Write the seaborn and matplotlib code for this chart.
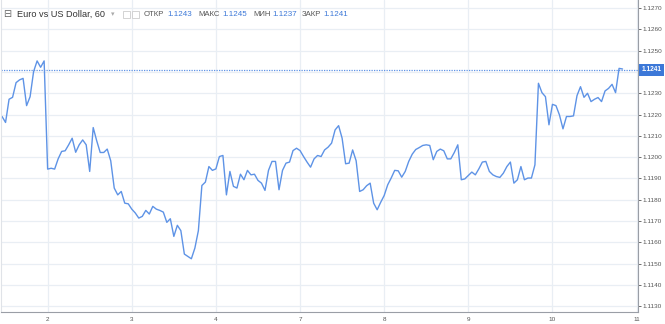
import numpy as np
import pandas as pd
import matplotlib
matplotlib.use("Agg")
import matplotlib.pyplot as plt
import matplotlib.transforms as mtransforms
from matplotlib.patches import Rectangle
import seaborn as sns

# ---- data (hourly closes) ----
prices = [
    1.12191, 1.12163, 1.12272, 1.12281, 1.12350, 1.12363, 1.12370, 1.12242, 1.12284, 1.12402,
    1.12452, 1.12422, 1.12452, 1.11944, 1.11948, 1.11944, 1.11992, 1.12027, 1.12030, 1.12058,
    1.12089, 1.12023, 1.12058, 1.12081, 1.12058, 1.11933, 1.12139, 1.12077, 1.12022, 1.12022,
    1.12038, 1.11983, 1.11855, 1.11823, 1.11839, 1.11784, 1.11781, 1.11756, 1.11738, 1.11714,
    1.11722, 1.11750, 1.11733, 1.11769, 1.11756, 1.11750, 1.11742, 1.11694, 1.11711, 1.11628,
    1.11680, 1.11655, 1.11545, 1.11534, 1.11523, 1.11573, 1.11655, 1.11867, 1.11883, 1.11956,
    1.11938, 1.11945, 1.12003, 1.12008, 1.11823, 1.11933, 1.11863, 1.11855, 1.11920, 1.11894,
    1.11938, 1.11917, 1.11920, 1.11891, 1.11878, 1.11844, 1.11938, 1.11980, 1.11980, 1.11847,
    1.11938, 1.11972, 1.11977, 1.12031, 1.12042, 1.12031, 1.12003, 1.11977, 1.11953, 1.11992,
    1.12008, 1.12003, 1.12034, 1.12047, 1.12066, 1.12128, 1.12148, 1.12089, 1.11969, 1.11972,
    1.12034, 1.11983, 1.11839, 1.11847, 1.11866, 1.11878, 1.11784, 1.11753, 1.11788, 1.11820,
    1.11870, 1.11902, 1.11938, 1.11936, 1.11906, 1.11933, 1.11980, 1.12014, 1.12036, 1.12045,
    1.12055, 1.12058, 1.12055, 1.11988, 1.12027, 1.12038, 1.12030, 1.11992, 1.11992, 1.12022,
    1.12058, 1.11894, 1.11898, 1.11914, 1.11930, 1.11917, 1.11945, 1.11977, 1.11980, 1.11933,
    1.11917, 1.11909, 1.11905, 1.11925, 1.11956, 1.11977, 1.11878, 1.11894, 1.11956, 1.11894,
    1.11902, 1.11902, 1.11964, 1.12347, 1.12303, 1.12284, 1.12152, 1.12248, 1.12242, 1.12198,
    1.12133, 1.12191, 1.12191, 1.12194, 1.12289, 1.12331, 1.12281, 1.12300, 1.12261, 1.12272,
    1.12280, 1.12261, 1.12311, 1.12323, 1.12342, 1.12303, 1.12417, 1.12414,
]
hours = list(range(len(prices)))

day_labels = ["2", "3", "4", "7", "8", "9", "10", "11"]
day_positions = [13, 37, 61, 85, 109, 133, 157, 181]

y_ticks = [1.1130, 1.1140, 1.1150, 1.1160, 1.1170, 1.1180, 1.1190, 1.1200,
           1.1210, 1.1220, 1.1230, 1.1250, 1.1260, 1.1270]
last_price = 1.1241

title_name = "Euro vs US Dollar, 60"
ohlc_labels = ["ОТКР", "МАКС", "МИН", "ЗАКР"]
ohlc_values = ["1.1243", "1.1245", "1.1237", "1.1241"]

df = pd.DataFrame({"hour": hours, "price": prices})

# ---- figure ----
W, H = 665, 324
sns.set_theme(style="white")
plt.rcParams["font.family"] = ["Liberation Sans", "DejaVu Sans"]
fig = plt.figure(figsize=(W / 100, H / 100), dpi=100)
fig.patch.set_facecolor("white")
ax = fig.add_axes([1 / W, (H - 312) / H, 637 / W, 312 / H])
ax.set_facecolor("white")

line_color = "#5e93e6"
grid_color = "#e9eef4"

sns.lineplot(data=df, x="hour", y="price", ax=ax, color=line_color, linewidth=1.0)

ax.set_xlim(-0.3, 181.4)
ax.set_ylim(1.11273, 1.12738)

# grid
for yv in [1.1130, 1.1140, 1.1150, 1.1160, 1.1170, 1.1180, 1.1190, 1.1200,
           1.1210, 1.1220, 1.1230, 1.1240, 1.1250, 1.1260, 1.1270]:
    ax.axhline(yv, color=grid_color, lw=0.9, zorder=0)
for xv in day_positions:
    ax.axvline(xv, color=grid_color, lw=0.9, zorder=0)

ax.axhline(last_price, color=line_color, lw=0.9, ls=(0, (1, 1)), zorder=1)

ax.set_xticks(day_positions)
ax.set_xticklabels(day_labels)
ax.yaxis.tick_right()
ax.set_yticks(y_ticks)
ax.set_yticklabels([f"{v:.4f}" for v in y_ticks])
ax.tick_params(axis="both", labelsize=4.6, colors="#555555", length=2, width=0.6, pad=1.5)
ax.tick_params(axis="x", colors="#777777", labelcolor="#555555")
ax.set_xlabel("")
ax.set_ylabel("")

for side in ["top"]:
    ax.spines[side].set_visible(False)
ax.spines["left"].set_color("#e0e3e8")
ax.spines["right"].set_color("#9a9ea6")
ax.spines["bottom"].set_color("#9a9ea6")
for s in ax.spines.values():
    s.set_linewidth(0.8)

# last price label on the right axis
trans = mtransforms.blended_transform_factory(ax.transAxes, ax.transData)
ax.text(1.005, last_price, "1.1241", transform=trans, fontsize=4.8, color="white",
        fontweight="bold", va="center", ha="left", clip_on=False,
        bbox=dict(boxstyle="square,pad=0.35", fc="#3c78d8", ec="none"))

# header legend
yc = 1 - 14 / H
def px(x):
    return x / W
fig.text(px(3), yc, "⊟", fontsize=7, color="#666666", va="center", ha="left",
         family=["DejaVu Sans"])
fig.text(px(17), yc, title_name, fontsize=6.6, color="#333333", va="center", ha="left")
fig.text(px(111), yc, "▾", fontsize=5, color="#aaaaaa", va="center", ha="left",
         family=["DejaVu Sans"])
for x0 in (123, 132):
    fig.patches.append(Rectangle((px(x0), yc - 3.5 / H), 7 / W, 7 / H, transform=fig.transFigure,
                                 fc="white", ec="#cccccc", lw=0.6))
label_x = [144, 198, 253, 302]
value_x = [167, 222, 272, 323]
for lab, val, lx, vx in zip(ohlc_labels, ohlc_values, label_x, value_x):
    fig.text(px(lx), yc, lab, fontsize=5.6, color="#555555", va="center", ha="left")
    fig.text(px(vx), yc, val, fontsize=5.8, color="#3c78d8", va="center", ha="left")

fig.savefig("out.png", dpi=100, facecolor="white")
